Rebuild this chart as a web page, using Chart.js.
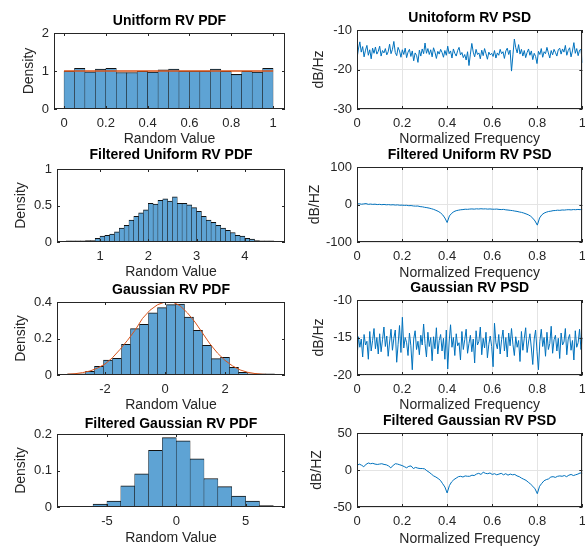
<!DOCTYPE html>
<html><head><meta charset="utf-8">
<script src="https://cdn.jsdelivr.net/npm/chart.js@4/dist/chart.umd.min.js"></script>
<style>
html,body{margin:0;padding:0;background:#fff;overflow:hidden;width:585px;height:546px;position:relative;}
canvas{position:absolute;}
</style></head><body>
<script>
// ---------------- DATA ----------------
// Uniform RV histogram (20 bins of 0.05 starting at 0)
const uniformBinStart = 0, uniformBinWidth = 0.05;
const uniformDensity = [1.00,1.07,0.98,1.05,1.07,0.96,0.96,0.99,0.97,1.03,1.05,1.00,1.00,1.00,1.05,0.99,0.91,0.99,0.97,1.07];
const uniformTheoryX = [0, 1];
const uniformTheoryY = [1, 1];

// Filtered uniform RV histogram (bins of 0.1 starting at 0.3)
const filtUniformBinStart = 0.3, filtUniformBinWidth = 0.1;
const filtUniformDensity = [0.004,0.004,0.004,0.004,0.02,0.02,0.05,0.08,0.09,0.11,0.14,0.19,0.23,0.30,0.35,0.40,0.44,0.53,0.52,0.57,0.59,0.56,0.62,0.53,0.53,0.51,0.47,0.42,0.35,0.30,0.27,0.23,0.19,0.16,0.13,0.09,0.08,0.05,0.04,0.02,0.01,0.005,0.005];

// Gaussian RV histogram (bins of 0.3 starting at -3.25)
const gaussBinStart = -3.25, gaussBinWidth = 0.3;
const gaussDensity = [0.004,0.006,0.02,0.048,0.082,0.091,0.168,0.254,0.278,0.34,0.369,0.386,0.389,0.318,0.245,0.163,0.09,0.097,0.042,0.015,0.007,0.004,0.004];
const gaussTheoryX = [-3.25,-3,-2.75,-2.5,-2.25,-2,-1.75,-1.5,-1.25,-1,-0.75,-0.5,-0.25,0,0.25,0.5,0.75,1,1.25,1.5,1.75,2,2.25,2.5,2.75,3,3.25,3.5,3.65];
const gaussTheoryY = [0.004,0.007,0.013,0.022,0.038,0.06,0.095,0.14,0.19,0.245,0.31,0.355,0.385,0.4,0.4,0.38,0.34,0.29,0.23,0.17,0.12,0.08,0.05,0.028,0.015,0.008,0.004,0.002,0.001];

// Filtered Gaussian RV histogram (bins of 1 starting at -6)
const filtGaussBinStart = -6, filtGaussBinWidth = 1;
const filtGaussDensity = [0.008,0.016,0.058,0.091,0.155,0.19,0.181,0.132,0.078,0.056,0.03,0.016,0.004];

// PSDs (dB/Hz), evenly spaced over normalized frequency 0..1
const uniformPsd = [
-17.2,-14.8,-13.0,-15.6,-14.2,-16.8,-15.1,-13.9,-16.4,-15.0,-17.3,-14.6,-15.9,-14.3,-16.1,-15.4,
-14.1,-16.6,-15.2,-15.8,-14.7,-16.3,-15.5,-13.6,-16.0,-14.9,-12.9,-15.7,-16.5,-14.4,-15.3,-16.9,
-15.0,-16.2,-14.6,-17.0,-15.6,-14.9,-16.7,-15.3,-17.8,-15.8,-16.4,-18.2,-15.1,-16.6,-14.8,-16.0,
-13.3,-15.9,-14.7,-16.2,-15.0,-16.8,-14.5,-15.6,-17.2,-15.4,-16.1,-14.9,-15.7,-16.9,-15.2,-16.4,
-14.1,-16.0,-15.3,-17.1,-14.8,-15.9,-16.6,-15.2,-14.4,-16.3,-15.7,-17.0,-16.2,-17.6,-15.5,-19.0,
-16.1,-13.4,-15.6,-16.8,-14.9,-16.2,-15.8,-17.3,-15.1,-16.5,-14.7,-16.0,-17.4,-15.6,-16.3,-15.9,
-16.7,-15.2,-17.1,-15.8,-16.4,-14.9,-16.0,-15.5,-17.2,-15.3,-14.6,-16.2,-15.1,-20.4,-16.3,-12.3,
-14.5,-15.8,-13.7,-16.1,-14.9,-16.6,-15.2,-17.0,-15.7,-14.8,-16.4,-15.3,-17.5,-15.9,-16.7,-18.5,
-15.4,-16.2,-14.7,-16.9,-15.5,-16.0,-14.4,-15.8,-17.1,-15.2,-16.3,-14.9,-15.7,-16.6,-15.0,-14.6,
-16.1,-14.8,-15.6,-13.9,-16.4,-15.2,-14.5,-16.8,-15.3,-13.2,-15.9,-14.7,-16.5,-15.1,-14.9,-18.3];

const filtUniformPsd = [
1.5,2.0,0.8,1.6,2.4,0.5,1.2,0.3,0.9,-0.2,0.4,
-0.5,0.2,-0.8,-0.3,-1.1,-0.6,-1.5,-1.0,-2.0,-1.6,
-2.4,-2.1,-3.2,-2.8,-3.9,-4.3,-4.0,-5.6,-6.2,-7.5,
-8.4,-9.6,-11.2,-13.0,-15.5,-18.2,-22.0,-27.5,-36.0,-48.0,
-30.5,-23.5,-19.0,-16.5,-15.2,-14.0,-13.5,-12.6,-12.9,-12.2,
-11.8,-12.4,-11.5,-12.0,-11.3,-11.9,-11.6,-12.3,-11.8,-12.5,
-12.6,-12.2,-13.1,-13.5,-13.0,-14.2,-14.8,-15.6,-16.3,-17.5,
-18.4,-19.9,-21.0,-22.8,-25.0,-27.4,-31.0,-36.5,-44.0,-55.0,
-36.0,-27.5,-23.0,-20.5,-18.6,-17.8,-16.4,-16.0,-15.2,-15.6,
-14.6,-14.9,-14.1,-13.8,-14.4,-13.5,-13.9,-13.2,-13.7,-13.0];

const gaussPsd = [
-17.8,-14.9,-16.3,-15.2,-17.6,-14.6,-16.0,-15.5,-17.9,-14.2,-16.8,-15.4,-13.8,-16.5,-15.0,-17.2,
-14.5,-16.9,-15.3,-13.6,-16.2,-14.8,-17.5,-15.6,-13.9,-16.7,-15.1,-14.0,-18.3,-15.9,-13.4,-17.0,
-12.3,-16.4,-15.0,-15.7,-17.4,-14.4,-16.1,-19.3,-15.2,-14.1,-16.6,-15.5,-17.3,-14.7,-16.0,-13.2,
-15.8,-17.6,-14.3,-16.2,-15.0,-18.1,-14.9,-16.5,-13.7,-17.2,-15.4,-14.6,-16.8,-15.1,-17.9,-14.0,
-19.2,-15.6,-13.3,-16.3,-15.0,-17.4,-14.5,-16.1,-15.7,-18.0,-14.2,-16.6,-15.3,-13.9,-17.1,-15.8,
-14.7,-16.9,-15.2,-18.4,-14.1,-16.0,-15.5,-13.6,-17.3,-15.1,-16.4,-14.3,-17.7,-15.9,-14.8,-16.2,
-18.9,-13.1,-15.7,-16.5,-14.6,-17.2,-15.3,-14.0,-16.8,-15.0,-17.6,-14.4,-16.1,-13.8,-15.9,-17.4,
-14.9,-16.3,-15.4,-18.2,-14.2,-16.7,-15.1,-13.7,-17.0,-15.6,-14.5,-16.4,-18.6,-15.2,-14.0,-16.9,
-19.3,-15.5,-13.9,-16.2,-15.0,-17.5,-14.3,-16.6,-15.8,-13.5,-17.1,-15.3,-14.7,-16.8,-15.1,-17.8,
-14.4,-16.0,-15.6,-13.8,-17.3,-15.2,-14.6,-16.7,-15.4,-18.0,-14.1,-16.3,-15.7,-13.9,-16.6,-15.0];

const filtGaussPsd = [
6.0,8.0,6.5,4.5,7.5,9.5,8.5,9.0,8.0,7.5,8.0,
8.5,7.5,7.0,5.5,3.0,6.0,8.5,8.0,7.0,6.0,
4.5,3.0,5.0,5.5,2.0,3.5,2.5,2.0,2.0,1.5,
-1.0,-3.0,-5.5,-8.0,-9.5,-11.5,-14.0,-18.5,-23.0,-31.0,
-21.0,-16.0,-13.0,-11.0,-9.0,-8.5,-9.5,-8.0,-8.5,-8.5,
-7.0,-7.5,-5.5,-4.5,-6.0,-3.0,-4.5,-5.0,-4.0,-6.0,
-5.0,-6.5,-5.5,-4.5,-6.5,-5.0,-7.0,-5.5,-6.5,-6.0,
-8.0,-9.0,-11.0,-12.5,-14.0,-16.5,-19.0,-22.0,-25.5,-32.0,
-22.0,-18.0,-14.5,-13.0,-12.0,-9.5,-9.0,-10.0,-8.5,-8.0,
-8.5,-7.5,-9.0,-7.0,-6.0,-7.5,-6.5,-5.5,-4.0,-4.5];

// Ticks
const freqTicks = [0,0.2,0.4,0.6,0.8,1];
const freqTickLabels = ['0','0.2','0.4','0.6','0.8','1'];
const uniformXTicks = [0,0.2,0.4,0.6,0.8,1];
const uniformXTickLabels = ['0','0.2','0.4','0.6','0.8','1'];
const uniformYTicks = [0,1,2], uniformYTickLabels = ['0','1','2'];
const filtUniformXTicks = [1,2,3,4], filtUniformXTickLabels = ['1','2','3','4'];
const filtUniformYTicks = [0,0.5,1], filtUniformYTickLabels = ['0','0.5','1'];
const gaussXTicks = [-2,0,2], gaussXTickLabels = ['-2','0','2'];
const gaussYTicks = [0,0.2,0.4], gaussYTickLabels = ['0','0.2','0.4'];
const filtGaussXTicks = [-5,0,5], filtGaussXTickLabels = ['-5','0','5'];
const filtGaussYTicks = [0,0.1,0.2], filtGaussYTickLabels = ['0','0.1','0.2'];
const uniformPsdYTicks = [-30,-20,-10], uniformPsdYTickLabels = ['-30','-20','-10'];
const filtUniformPsdYTicks = [-100,0,100], filtUniformPsdYTickLabels = ['-100','0','100'];
const gaussPsdYTicks = [-20,-15,-10], gaussPsdYTickLabels = ['-20','-15','-10'];
const filtGaussPsdYTicks = [-50,0,50], filtGaussPsdYTickLabels = ['-50','0','50'];

// ---------------- RENDER ----------------
const FONT = "'Liberation Sans', Arial, Helvetica, sans-serif";
const AX = '#262626';
const BAR_FILL = 'rgb(94,163,212)';
const BAR_EDGE = '#111';
const LINE_BLUE = '#0072BD';
const RED = '#D95319';
const YW = 52, XH = 40, RP = 10;

function centers(start, width, n) { return Array.from({length:n}, (_, i) => start + width*(i+0.5)); }
function pts(xs, ys) { return ys.map((y,i)=>({x:xs[i], y:y})); }
function freqs(n) { return Array.from({length:n}, (_, i) => i/(n-1)); }

const boxTicks = {
  id: 'boxTicks',
  afterDatasetsDraw(chart) {
    const {ctx, chartArea: a, scales: {x, y}} = chart;
    const tl = 3;
    ctx.save();
    ctx.strokeStyle = AX; ctx.lineWidth = 1;
    ctx.beginPath();
    x.ticks.forEach(t => {
      const px = Math.round(x.getPixelForValue(t.value)) + 0.5;
      ctx.moveTo(px, a.bottom); ctx.lineTo(px, a.bottom - tl);
      ctx.moveTo(px, a.top); ctx.lineTo(px, a.top + tl);
    });
    y.ticks.forEach(t => {
      const py = Math.round(y.getPixelForValue(t.value)) + 0.5;
      ctx.moveTo(a.left, py); ctx.lineTo(a.left + tl, py);
      ctx.moveTo(a.right, py); ctx.lineTo(a.right - tl, py);
    });
    ctx.stroke();
    ctx.strokeRect(Math.round(a.left) + 0.5, Math.round(a.top) + 0.5, Math.round(a.right - a.left) - 1, Math.round(a.bottom - a.top) - 1);
    ctx.restore();
  }
};

function barSet(start, width, dens) {
  return {type:'bar', data: pts(centers(start, width, dens.length), dens),
    backgroundColor: BAR_FILL, borderColor: BAR_EDGE,
    borderWidth: {top:1, left:0.5, right:0.5, bottom:0}, borderSkipped: false,
    barPercentage: 1, categoryPercentage: 1, minBarLength: 1.2, order: 2};
}
function lineSet(xs, ys, color, w) {
  return {type:'line', data: pts(xs, ys), borderColor: color, borderWidth: w,
    pointRadius: 0, tension: 0, fill: false, order: 1};
}

function panel(p) {
  const top = Math.round(p.titleY - 8.4);
  const left = p.L - YW;
  const w = YW + (p.R - p.L) + RP;
  const h = p.B - top + XH;
  const cv = document.createElement('canvas');
  cv.width = w; cv.height = h;
  cv.style.left = left + 'px'; cv.style.top = top + 'px';
  cv.style.width = w + 'px'; cv.style.height = h + 'px';
  document.body.appendChild(cv);
  const mkGrid = () => p.grid ? {display:true, drawOnChartArea:true, drawTicks:false, color:'#e4e4e4', lineWidth:1}
                          : {display:false, drawTicks:false};
  new Chart(cv, {
    type: p.type,
    data: {datasets: p.datasets},
    options: {
      responsive: false, animation: false, devicePixelRatio: 1,
      layout: {padding: {left:0, top:0, right:RP, bottom:0}},
      plugins: {
        legend: {display:false}, tooltip: {enabled:false},
        title: {display:true, text:p.title, color:'#000', fullSize:false,
          font:{family:FONT, size:14, weight:'bold'},
          padding:{top:0, bottom: p.T - top - 16.8}}
      },
      scales: {
        x: {type:'linear', min:p.xMin, max:p.xMax, offset:false, bounds:'data',
          grid: mkGrid(), border:{display:false},
          afterBuildTicks: s => { s.ticks = p.xTicks.map(v => ({value:v})); },
          afterFit: s => { s.height = XH; },
          ticks: {autoSkip:false, maxRotation:0, padding:7, color:AX,
            font:{family:FONT, size:13}, callback:(v, i) => p.xTickLabels[i]},
          title: {display:true, text:p.xLabel, color:AX, font:{family:FONT, size:14},
            padding:{top:0, bottom: XH - (p.xTitleY - p.B) - 8.4}}},
        y: {type:'linear', min:p.yMin, max:p.yMax, bounds:'data',
          grid: mkGrid(), border:{display:false},
          afterBuildTicks: s => { s.ticks = p.yTicks.map(v => ({value:v})); },
          afterFit: s => { s.width = YW; },
          ticks: {autoSkip:false, padding:5, color:AX,
            font:{family:FONT, size:13}, callback:(v, i) => p.yTickLabels[i]},
          title: {display:true, text:p.yLabel, color:AX, font:{family:FONT, size:14},
            padding:{top: p.yTitleX - left - 8.4, bottom:0}}}
      }
    },
    plugins: [boxTicks]
  });
}

// Left column: PDFs
panel({type:'bar', L:54, T:33, R:285, B:109, titleY:21.7, yTitleX:29, xTitleY:139,
  title:'Unitform RV PDF', xLabel:'Random Value', yLabel:'Density',
  xMin:-0.048, xMax:1.057, xTicks:uniformXTicks, xTickLabels:uniformXTickLabels,
  yMin:0, yMax:2, yTicks:uniformYTicks, yTickLabels:uniformYTickLabels,
  datasets:[barSet(uniformBinStart, uniformBinWidth, uniformDensity), lineSet(uniformTheoryX, uniformTheoryY, RED, 1.5)]});

panel({type:'bar', L:57, T:169, R:285, B:242, titleY:155, yTitleX:21, xTitleY:272,
  title:'Filtered Uniform RV PDF', xLabel:'Random Value', yLabel:'Density',
  xMin:0.11, xMax:4.83, xTicks:filtUniformXTicks, xTickLabels:filtUniformXTickLabels,
  yMin:0, yMax:1, yTicks:filtUniformYTicks, yTickLabels:filtUniformYTickLabels,
  datasets:[barSet(filtUniformBinStart, filtUniformBinWidth, filtUniformDensity)]});

panel({type:'bar', L:57, T:302, R:285, B:375, titleY:290, yTitleX:21, xTitleY:405,
  title:'Gaussian RV PDF', xLabel:'Random Value', yLabel:'Density',
  xMin:-3.6, xMax:4.0, xTicks:gaussXTicks, xTickLabels:gaussXTickLabels,
  yMin:0, yMax:0.4, yTicks:gaussYTicks, yTickLabels:gaussYTickLabels,
  datasets:[barSet(gaussBinStart, gaussBinWidth, gaussDensity), lineSet(gaussTheoryX, gaussTheoryY, RED, 1)]});

panel({type:'bar', L:57, T:434, R:285, B:507, titleY:424, yTitleX:21, xTitleY:538,
  title:'Filtered Gaussian RV PDF', xLabel:'Random Value', yLabel:'Density',
  xMin:-8.6, xMax:7.84, xTicks:filtGaussXTicks, xTickLabels:filtGaussXTickLabels,
  yMin:0, yMax:0.2, yTicks:filtGaussYTicks, yTickLabels:filtGaussYTickLabels,
  datasets:[barSet(filtGaussBinStart, filtGaussBinWidth, filtGaussDensity)]});

// Right column: PSDs
panel({type:'line', grid:true, L:357, T:30, R:583, B:109, titleY:18.3, yTitleX:319, xTitleY:139,
  title:'Unitoform RV PSD', xLabel:'Normalized Frequency', yLabel:'dB/Hz',
  xMin:0, xMax:1, xTicks:freqTicks, xTickLabels:freqTickLabels,
  yMin:-30, yMax:-10, yTicks:uniformPsdYTicks, yTickLabels:uniformPsdYTickLabels,
  datasets:[lineSet(freqs(uniformPsd.length), uniformPsd, LINE_BLUE, 1)]});

panel({type:'line', grid:true, L:357, T:167, R:583, B:242, titleY:155, yTitleX:315, xTitleY:273,
  title:'Filtered Uniform RV PSD', xLabel:'Normalized Frequency', yLabel:'dB/HZ',
  xMin:0, xMax:1, xTicks:freqTicks, xTickLabels:freqTickLabels,
  yMin:-100, yMax:100, yTicks:filtUniformPsdYTicks, yTickLabels:filtUniformPsdYTickLabels,
  datasets:[lineSet(freqs(filtUniformPsd.length), filtUniformPsd, LINE_BLUE, 1)]});

panel({type:'line', grid:true, L:357, T:300, R:583, B:375, titleY:288.3, yTitleX:319, xTitleY:405,
  title:'Gaussian RV PSD', xLabel:'Normalized Frequency', yLabel:'dB/Hz',
  xMin:0, xMax:1, xTicks:freqTicks, xTickLabels:freqTickLabels,
  yMin:-20, yMax:-10, yTicks:gaussPsdYTicks, yTickLabels:gaussPsdYTickLabels,
  datasets:[lineSet(freqs(gaussPsd.length), gaussPsd, LINE_BLUE, 1)]});

panel({type:'line', grid:true, L:357, T:433, R:583, B:507, titleY:421.7, yTitleX:317, xTitleY:539,
  title:'Filtered Gaussian RV PSD', xLabel:'Normalized Frequency', yLabel:'dB/HZ',
  xMin:0, xMax:1, xTicks:freqTicks, xTickLabels:freqTickLabels,
  yMin:-50, yMax:50, yTicks:filtGaussPsdYTicks, yTickLabels:filtGaussPsdYTickLabels,
  datasets:[lineSet(freqs(filtGaussPsd.length), filtGaussPsd, LINE_BLUE, 1)]});
</script>
</body></html>
